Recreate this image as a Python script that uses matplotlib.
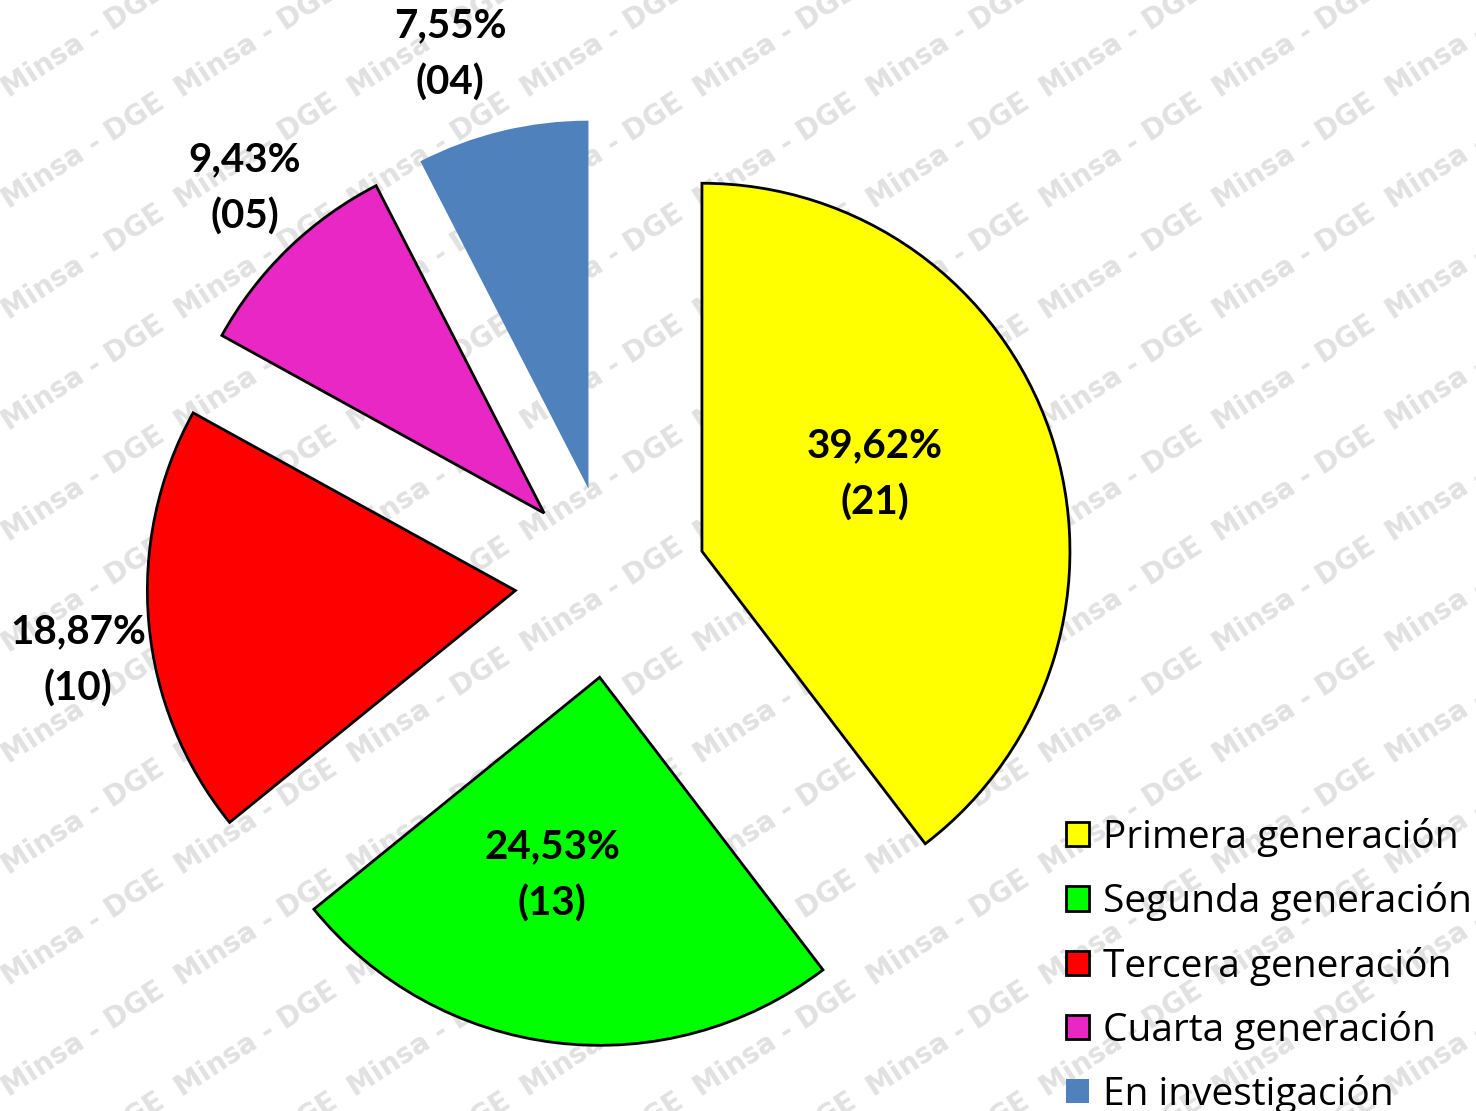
import numpy as np
import matplotlib
matplotlib.use('Agg')
import matplotlib.pyplot as plt

# data
categories = ['Primera generación', 'Segunda generación', 'Tercera generación',
              'Cuarta generación', 'En investigación']
counts = [21, 13, 10, 5, 4]
colors = ['#FFFF00', '#00FF00', '#FF0000', '#E927C4', '#4F81BD']

W, H = 1476, 1111
CX, CY = 611, H - 582
R = 368
# label block centres (pixels, y from top)
label_pos = [(875, 474), (552, 875), (78, 660), (245, 188), (450, 54)]

fig = plt.figure(figsize=(W / 100, H / 100), dpi=100)
ax = fig.add_axes([0, 0, 1, 1])

# watermark
for i in range(-2, 11):
    for j in range(-2, 12):
        x = 1121 + 173 * (i - 6)
        y = 151 + 111 * (j - 1)
        if -150 < x < W + 150 and -100 < y < H + 100:
            ax.text(x, H - y, 'Minsa - DGE', rotation=33, color='#e1e1e1',
                    fontsize=20, fontweight='bold', family='DejaVu Sans',
                    ha='center', va='center', rotation_mode='anchor', zorder=0)

wedges, _ = ax.pie(counts, colors=colors, startangle=90, counterclock=False,
                   explode=[96] * len(counts), radius=R, center=(CX, CY),
                   wedgeprops=dict(edgecolor='black', linewidth=2.0))
wedges[-1].set_edgecolor('none')
for w in wedges:
    w.set_zorder(2)

total = sum(counts)
for v, (px, py) in zip(counts, label_pos):
    pct = f'{v / total * 100:.2f}%'.replace('.', ',')
    ax.text(px, H - py, f'{pct}\n({v:02d})', ha='center', va='center',
            fontsize=29, fontweight='bold', family='Lato', linespacing=1.63, zorder=3)

ax.set_xlim(0, W)
ax.set_ylim(0, H)
ax.set_aspect('equal')
ax.axis('off')

leg = fig.legend(wedges, categories, loc='upper left',
                 bbox_to_anchor=(1066 / W, 1 - 818 / H), frameon=False,
                 prop={'family': 'Open Sans', 'size': 28}, handlelength=0.58,
                 handleheight=0.58, handletextpad=0.38, labelspacing=0.65,
                 borderpad=0, borderaxespad=0)

fig.savefig('out.png', dpi=100, facecolor='white')
